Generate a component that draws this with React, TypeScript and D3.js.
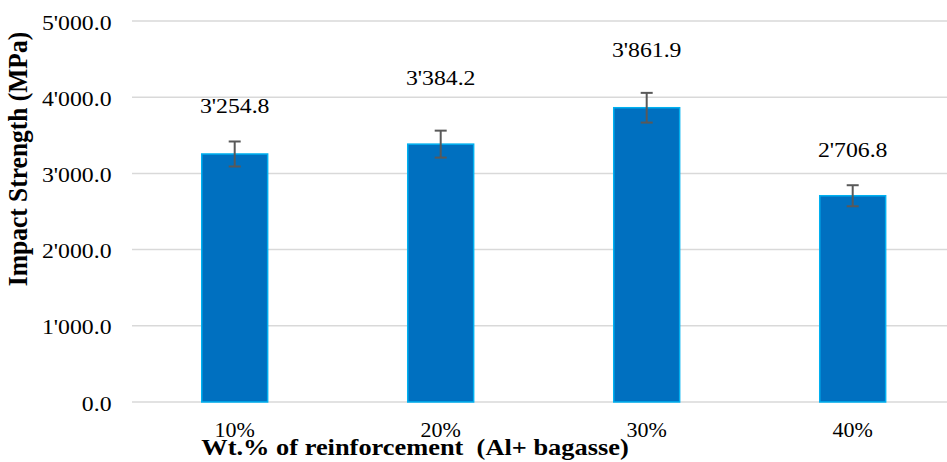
import React from "react";
import * as d3 from "d3";

const categories = ["10%", "20%", "30%", "40%"];
const values = [3254.8, 3384.2, 3861.9, 2706.8];
const errors = [164, 177, 195, 138];
const valueLabels = ["3'254.8", "3'384.2", "3'861.9", "2'706.8"];
const yTicks = [0, 1000, 2000, 3000, 4000, 5000];
const yTickLabels = ["0.0", "1'000.0", "2'000.0", "3'000.0", "4'000.0", "5'000.0"];
// label vertical offsets above bar tops (px), as placed in the reference
const labelOffsets = [41, 59, 51, 39];

const W = 947;
const H = 462;
const FONT = '"Liberation Serif"';
const SX = 1.08;

function T(props: {
  x: number;
  y: number;
  size: number;
  anchor: "start" | "middle" | "end";
  bold?: boolean;
  sx?: number;
  children: string;
}) {
  const { x, y, size, anchor, bold, sx = SX, children } = props;
  return (
    <text
      transform={`translate(${x},${y}) scale(${sx},1)`}
      textAnchor={anchor}
      fontSize={size}
      fontWeight={bold ? "bold" : "normal"}
      fill="#000"
      style={{ fontFamily: FONT, whiteSpace: "pre" }}
    >
      {children}
    </text>
  );
}

export default function App() {
  const x = d3
    .scaleBand<string>()
    .domain(categories)
    .range([131.7, 955.7])
    .paddingInner(0.68)
    .paddingOuter(0.34);
  const y = d3.scaleLinear().domain([0, 5000]).range([402, 21]);
  const bw = x.bandwidth();

  return (
    <svg
      width={W}
      height={H}
      style={{ position: "absolute", left: 0, top: 0, background: "#fff" }}
    >
      {yTicks.map((t, i) => (
        <g key={t}>
          <line x1={132} x2={W} y1={y(t)} y2={y(t)} stroke="#d9d9d9" strokeWidth={1.5} />
          <T x={111.5} y={y(t) + 8.5} size={22} anchor="end">
            {yTickLabels[i]}
          </T>
        </g>
      ))}
      {categories.map((c, i) => {
        const cx = (x(c) as number) + bw / 2;
        return (
          <g key={c}>
            <rect
              x={x(c) as number}
              y={y(values[i])}
              width={bw}
              height={y(0) - y(values[i])}
              fill="#0070C0"
              stroke="#00B0F0"
              strokeWidth={1.5}
            />
            <line x1={cx} x2={cx} y1={y(values[i] + errors[i])} y2={y(values[i] - errors[i])} stroke="#595959" strokeWidth={2} />
            <line x1={cx - 6} x2={cx + 6} y1={y(values[i] + errors[i])} y2={y(values[i] + errors[i])} stroke="#595959" strokeWidth={2} />
            <line x1={cx - 6} x2={cx + 6} y1={y(values[i] - errors[i])} y2={y(values[i] - errors[i])} stroke="#595959" strokeWidth={2} />
            <T x={cx} y={y(values[i]) - labelOffsets[i]} size={22} anchor="middle">
              {valueLabels[i]}
            </T>
            <T x={cx} y={437} size={22} anchor="middle" sx={1.0}>
              {c}
            </T>
          </g>
        );
      })}
      <T x={415} y={455} size={24} anchor="middle" bold sx={1.1}>
        {"Wt.% of reinforcement  (Al+ bagasse)"}
      </T>
      <text
        transform={`translate(27,159) rotate(-90) scale(1,1.08)`}
        textAnchor="middle"
        fontSize={25.5}
        fontWeight="bold"
        fill="#000"
        style={{ fontFamily: FONT }}
      >
        Impact Strength (MPa)
      </text>
    </svg>
  );
}
